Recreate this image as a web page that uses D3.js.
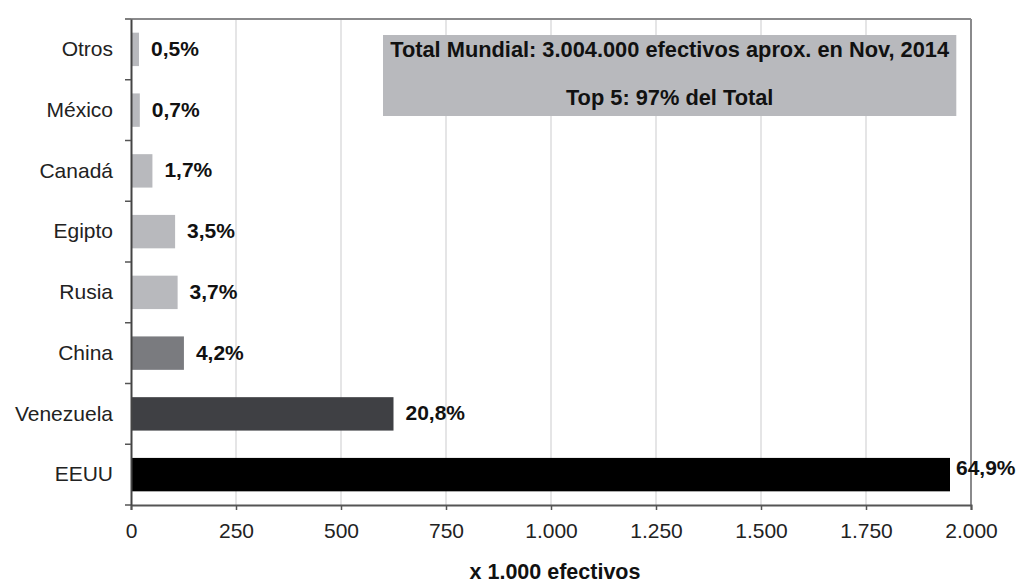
<!DOCTYPE html>
<html>
<head>
<meta charset="utf-8">
<script src="https://cdn.jsdelivr.net/npm/d3@7"></script>
<style>
  body { margin: 0; background: #fff; }
  svg { font-family: "Liberation Sans", Arial, sans-serif; }
</style>
</head>
<body>
<div class="chart"></div>
<script>
// data (x 1.000 efectivos), top to bottom
var countries = ["Otros", "México", "Canadá", "Egipto", "Rusia", "China", "Venezuela", "EEUU"];
var values = [19, 21, 51, 105, 111, 126, 625, 1950];
var shares = ["0,5%", "0,7%", "1,7%", "3,5%", "3,7%", "4,2%", "20,8%", "64,9%"];
var barColors = ["#b8b9bd", "#b8b9bd", "#b8b9bd", "#b8b9bd", "#b8b9bd", "#7a7b7f", "#3f4044", "#000000"];
var xTicks = [0, 250, 500, 750, 1000, 1250, 1500, 1750, 2000];
var noteLines = ["Total Mundial: 3.004.000 efectivos aprox. en Nov, 2014", "Top 5: 97% del Total"];
var axisTitle = "x 1.000 efectivos";

var width = 1017, height = 585;
var margin = {top: 19, right: 46, bottom: 80, left: 131};
var innerW = width - margin.left - margin.right,
    innerH = height - margin.top - margin.bottom;

var svg = d3.select(".chart")
    .append("svg")
    .attr("width", width)
    .attr("height", height);

var g = svg.append("g")
    .attr("transform", "translate(" + margin.left + "," + margin.top + ")");

// scales
var x = d3.scaleLinear().domain([0, 2000]).range([0, innerW]);
var y = d3.scaleBand().domain(countries).range([0, innerH]).paddingInner(0.45).paddingOuter(0.225);
var yRows = d3.scaleBand().domain(countries).range([0, innerH]);

// gridlines
g.selectAll(".grid")
    .data(xTicks.slice(1, -1))
    .enter()
    .append("line")
    .attr("x1", function(d) { return x(d); })
    .attr("x2", function(d) { return x(d); })
    .attr("y1", 0)
    .attr("y2", innerH)
    .attr("stroke", "#d4d4d6")
    .attr("stroke-width", 1.2);

// plot border top/right
g.append("line").attr("x1", 0).attr("x2", innerW).attr("y1", 0).attr("y2", 0)
    .attr("stroke", "#8a8a8c").attr("stroke-width", 2);
g.append("line").attr("x1", innerW).attr("x2", innerW).attr("y1", 0).attr("y2", innerH)
    .attr("stroke", "#8a8a8c").attr("stroke-width", 2);

// annotation box
var box = g.append("g");
box.append("rect")
    .attr("x", x(600))
    .attr("y", 16)
    .attr("width", x(1965) - x(600))
    .attr("height", 81)
    .attr("fill", "#b8b9bd");
box.selectAll("text")
    .data(noteLines)
    .enter()
    .append("text")
    .attr("x", (x(600) + x(1965)) / 2)
    .attr("y", function(d, i) { return 32 + i * 48; })
    .attr("text-anchor", "middle")
    .attr("dominant-baseline", "middle")
    .attr("font-size", 21.8)
    .attr("font-weight", "bold")
    .attr("fill", "#111")
    .text(function(d) { return d; });

// bars
g.selectAll(".bar")
    .data(countries)
    .enter()
    .append("rect")
    .attr("x", 0)
    .attr("y", function(d) { return y(d); })
    .attr("width", function(d, i) { return x(values[i]); })
    .attr("height", y.bandwidth())
    .attr("fill", function(d, i) { return barColors[i]; });

// value labels
g.selectAll(".lbl")
    .data(countries)
    .enter()
    .append("text")
    .attr("x", function(d, i) {
        var end = x(values[i]);
        return end + 60 > innerW ? end + 6 : end + 12;
    })
    .attr("y", function(d, i) {
        var c = y(d) + y.bandwidth() / 2;
        return x(values[i]) + 60 > innerW ? c - 5 : c + 1;
    })
    .attr("dominant-baseline", "middle")
    .attr("font-size", 21)
    .attr("font-weight", "bold")
    .attr("fill", "#111")
    .text(function(d, i) { return shares[i]; });

// x axis
var xAxis = g.append("g")
    .attr("transform", "translate(0," + innerH + ")")
    .call(d3.axisBottom(x).tickValues(xTicks).tickSize(5).tickPadding(13)
        .tickFormat(function(d) { return d3.format(",")(d).replace(/,/g, "."); }));
xAxis.select(".domain").attr("stroke", "#555").attr("stroke-width", 2);
xAxis.selectAll(".tick line").attr("stroke", "#555").attr("stroke-width", 1.5);
xAxis.selectAll("text")
    .attr("font-size", 21)
    .attr("fill", "#222")
    .attr("font-family", "Liberation Sans, Arial, sans-serif");

// y axis
var yAxis = g.append("g")
    .call(d3.axisLeft(yRows).tickSize(0).tickPadding(18));
yAxis.select(".domain").attr("stroke", "#444").attr("stroke-width", 2);
yAxis.selectAll("text")
    .attr("font-size", 21)
    .attr("fill", "#222")
    .attr("font-family", "Liberation Sans, Arial, sans-serif");

// y tick marks at row boundaries
g.selectAll(".ytick")
    .data(d3.range(countries.length + 1))
    .enter()
    .append("line")
    .attr("x1", -6)
    .attr("x2", 0)
    .attr("y1", function(d) { return d * yRows.step(); })
    .attr("y2", function(d) { return d * yRows.step(); })
    .attr("stroke", "#555")
    .attr("stroke-width", 1.5);

// axis title
svg.append("text")
    .attr("x", margin.left + innerW / 2 + 4)
    .attr("y", 579)
    .attr("text-anchor", "middle")
    .attr("font-size", 21.5)
    .attr("font-weight", "bold")
    .attr("fill", "#111")
    .text(axisTitle);
</script>
</body>
</html>
